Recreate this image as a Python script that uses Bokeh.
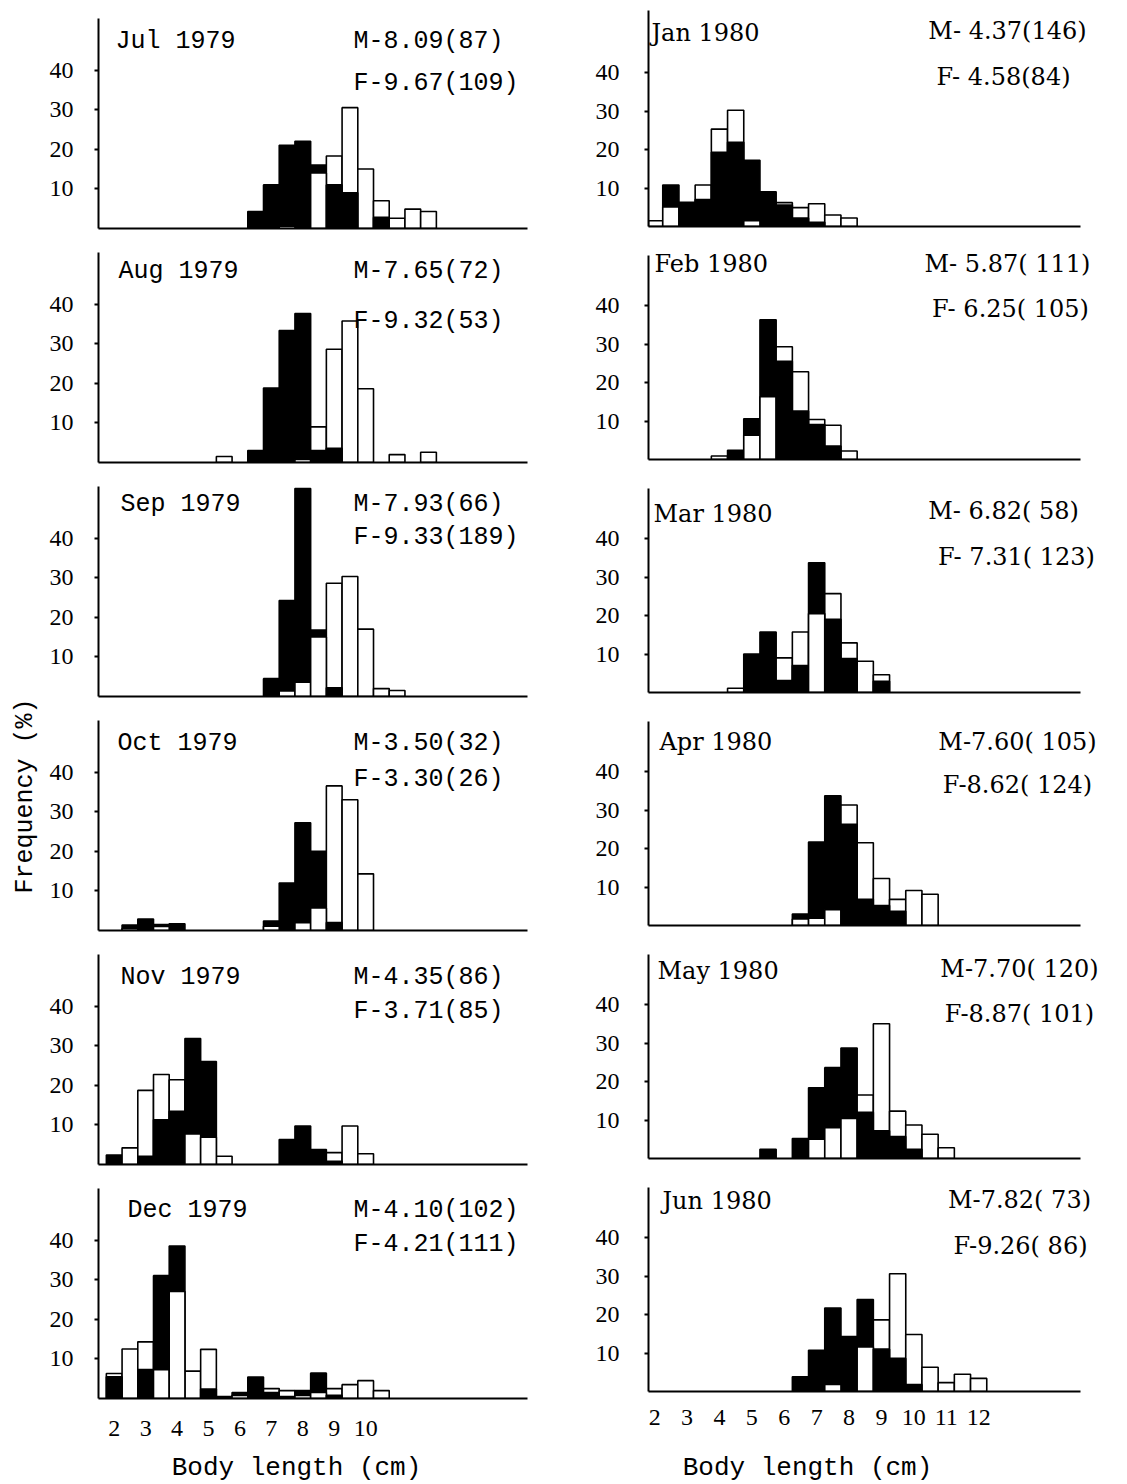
from math import pi
from bokeh.plotting import figure
from bokeh.models import ColumnDataSource, Label, FixedTicker, Range1d
from bokeh.layouts import row, column
from bokeh.embed import file_html
from bokeh.resources import INLINE
from bokeh.core.validation import silence
from bokeh.core.validation.warnings import MISSING_RENDERERS

silence(MISSING_RENDERERS, True)

# ---------------- data (percent frequency by 0.5 cm body-length class) ----------------
jul79_len = [6.5, 7.0, 7.5, 8.0, 8.5, 9.0, 9.5, 10.0, 10.5, 11.0, 11.5, 12.0]
jul79_m = [4.3, 11.0, 21.0, 22.0, 16.0, 11.0, 9.0, 0.0, 2.8, 0.0, 0.0, 0.0]
jul79_f = [0.0, 0.0, 0.6, 0.0, 14.0, 18.3, 30.5, 15.0, 7.0, 2.6, 4.9, 4.3]

aug79_len = [5.5, 6.5, 7.0, 7.5, 8.0, 8.5, 9.0, 9.5, 10.0, 11.0, 12.0]
aug79_m = [0.0, 3.0, 18.8, 33.3, 37.6, 3.0, 3.6, 0.0, 0.0, 0.0, 0.0]
aug79_f = [1.5, 0.0, 0.0, 0.0, 0.8, 9.0, 28.6, 35.7, 18.6, 2.0, 2.6]

sep79_len = [7.0, 7.5, 8.0, 8.5, 9.0, 9.5, 10.0, 10.5, 11.0]
sep79_m = [4.5, 24.2, 52.5, 16.8, 2.2, 0.0, 0.0, 0.0, 0.0]
sep79_f = [0.0, 1.4, 3.6, 15.0, 28.6, 30.3, 17.0, 2.0, 1.5]

oct79_len = [2.5, 3.0, 3.5, 4.0, 7.0, 7.5, 8.0, 8.5, 9.0, 9.5, 10.0]
oct79_m = [1.4, 2.9, 1.5, 1.7, 2.4, 12.0, 27.2, 20.0, 2.0, 0.0, 0.0]
oct79_f = [0.5, 0.0, 1.0, 0.0, 1.1, 0.0, 2.0, 5.7, 36.5, 33.0, 14.3]

nov79_len = [2.0, 2.5, 3.0, 3.5, 4.0, 4.5, 5.0, 5.5, 7.5, 8.0, 8.5, 9.0, 9.5, 10.0]
nov79_m = [2.4, 0.0, 2.1, 11.3, 13.4, 31.8, 26.0, 0.0, 6.3, 9.7, 3.8, 0.8, 0.0, 0.0]
nov79_f = [0.0, 4.2, 18.7, 22.7, 21.4, 7.7, 6.9, 2.1, 0.0, 0.0, 0.0, 3.0, 9.7, 2.7]

dec79_len = [2.0, 2.5, 3.0, 3.5, 4.0, 4.5, 5.0, 5.5, 6.0, 6.5, 7.0, 7.5, 8.0, 8.5, 9.0, 9.5, 10.0, 10.5]
dec79_m = [5.5, 0.0, 7.3, 31.0, 38.5, 0.0, 2.4, 0.5, 1.5, 5.4, 1.5, 0.5, 2.0, 6.4, 0.8, 0.0, 0.0, 0.0]
dec79_f = [6.3, 12.5, 14.3, 7.3, 27.0, 6.9, 12.4, 0.0, 0.8, 0.0, 2.5, 2.0, 0.8, 1.5, 2.5, 3.5, 4.5, 2.0]

jan80_len = [2.0, 2.5, 3.0, 3.5, 4.0, 4.5, 5.0, 5.5, 6.0, 6.5, 7.0, 7.5, 8.0]
jan80_m = [0.0, 10.8, 6.0, 7.0, 19.3, 21.9, 17.2, 9.0, 5.6, 2.2, 1.1, 0.0, 0.0]
jan80_f = [1.5, 5.1, 6.3, 10.8, 25.3, 30.2, 1.5, 0.0, 6.2, 4.9, 5.9, 3.0, 2.2]

feb80_len = [4.0, 4.5, 5.0, 5.5, 6.0, 6.5, 7.0, 7.5, 8.0]
feb80_m = [0.0, 2.4, 10.6, 36.3, 25.5, 12.6, 9.1, 3.5, 0.0]
feb80_f = [0.9, 0.0, 6.3, 16.3, 29.3, 22.8, 10.4, 8.9, 2.2]

mar80_len = [4.5, 5.0, 5.5, 6.0, 6.5, 7.0, 7.5, 8.0, 8.5, 9.0]
mar80_m = [0.0, 10.0, 15.7, 3.1, 7.0, 33.7, 19.0, 8.8, 0.0, 2.9]
mar80_f = [1.1, 0.0, 0.0, 9.0, 15.7, 20.5, 25.7, 12.9, 8.1, 4.6]

apr80_len = [6.5, 7.0, 7.5, 8.0, 8.5, 9.0, 9.5, 10.0, 10.5]
apr80_m = [3.0, 21.7, 33.7, 26.3, 6.8, 5.2, 3.7, 0.0, 0.0]
apr80_f = [1.7, 1.9, 4.1, 31.3, 21.5, 12.2, 6.8, 9.1, 8.1]

may80_len = [5.5, 6.5, 7.0, 7.5, 8.0, 8.5, 9.0, 9.5, 10.0, 10.5, 11.0]
may80_m = [2.4, 5.2, 18.4, 23.6, 28.7, 12.0, 7.2, 5.7, 2.4, 0.0, 0.0]
may80_f = [0.0, 0.0, 5.0, 8.0, 10.4, 16.5, 35.0, 12.3, 8.7, 6.3, 2.8]

jun80_len = [6.5, 7.0, 7.5, 8.0, 8.5, 9.0, 9.5, 10.0, 10.5, 11.0, 11.5, 12.0]
jun80_m = [3.8, 10.7, 21.7, 14.3, 23.9, 11.0, 8.6, 1.8, 0.0, 0.0, 0.0, 0.0]
jun80_f = [0.0, 0.0, 1.8, 0.0, 11.6, 18.6, 30.6, 14.8, 6.3, 2.3, 4.5, 3.4]

left_titles = ["Jul 1979", "Aug 1979", "Sep 1979", "Oct 1979", "Nov 1979", "Dec 1979"]
left_mtext = ["M-8.09(87)", "M-7.65(72)", "M-7.93(66)", "M-3.50(32)", "M-4.35(86)", "M-4.10(102)"]
left_ftext = ["F-9.67(109)", "F-9.32(53)", "F-9.33(189)", "F-3.30(26)", "F-3.71(85)", "F-4.21(111)"]
right_titles = ["Jan 1980", "Feb 1980", "Mar 1980", "Apr 1980", "May 1980", "Jun 1980"]
right_mtext = ["M- 4.37(146)", "M- 5.87( 111)", "M- 6.82( 58)", "M-7.60( 105)", "M-7.70( 120)", "M-7.82( 73)"]
right_ftext = ["F- 4.58(84)", "F- 6.25( 105)", "F- 7.31( 123)", "F-8.62( 124)", "F-8.87( 101)", "F-9.26( 86)"]

y_ticks = [10, 20, 30, 40]
left_x_ticks = [2, 3, 4, 5, 6, 7, 8, 9, 10]
right_x_ticks = [2, 3, 4, 5, 6, 7, 8, 9, 10, 11, 12]
x_title = "Body length (cm)"
y_title = "Frequency  (%)"

left_data = [(jul79_len, jul79_m, jul79_f), (aug79_len, aug79_m, aug79_f),
             (sep79_len, sep79_m, sep79_f), (oct79_len, oct79_m, oct79_f),
             (nov79_len, nov79_m, nov79_f), (dec79_len, dec79_m, dec79_f)]
right_data = [(jan80_len, jan80_m, jan80_f), (feb80_len, feb80_m, feb80_f),
              (mar80_len, mar80_m, mar80_f), (apr80_len, apr80_m, apr80_f),
              (may80_len, may80_m, may80_f), (jun80_len, jun80_m, jun80_f)]

# ---------------- layout / style ----------------
MONO = "Liberation Mono"
SERIF = "Liberation Serif"
RSERIF = "DejaVu Serif"
TOTAL_H = 1482

# axis_px: visible length of the y axis line above the baseline
GL = dict(width=508, mbl=58, mbr=21, x0=1.5, ppc=31.43, axis_w=429, upp=53 / 210,
          heights=[242, 234, 234, 234, 234, 270], mbt=2, mbb=[14, 14, 14, 14, 14, 50],
          axis_px=[210] * 6,
          fl=98, ystand=21, xstand=16, ticks=left_x_ticks,
          title_font=MONO, title_size="25px", ann_font=MONO, ann_size="25px",
          title_x=[115, 118, 120, 117, 120, 127], title_y=[187, 191, 192, 187, 187, 188],
          m_x=[353] * 6, m_y=[187, 191, 192, 187, 187, 188],
          f_x=[353] * 6, f_y=[145, 141, 159, 151, 153, 154],
          ann_align="left", xlab_h=34, xlab_px=296, xlab_cy=15)
GR = dict(width=569, mbl=100, mbr=2, x0=1.81, ppc=32.4, axis_w=432, upp=53 / 204,
          heights=[241, 233, 233, 233, 233, 263], mbt=2, mbb=[15, 15, 15, 15, 15, 45],
          axis_px=[216, 204, 204, 204, 204, 204],
          fl=648, ystand=25, xstand=12, ticks=right_x_ticks,
          title_font=RSERIF, title_size="24px", ann_font=RSERIF, ann_size="24px",
          title_x=[651, 654, 653, 659, 657, 662], title_y=[194, 196, 179, 184, 188, 191],
          m_x=[1007, 1007, 1003, 1017, 1019, 1019], m_y=[196, 196, 182, 184, 190, 192],
          f_x=[1003, 1010, 1016, 1017, 1019, 1020], f_y=[150, 151, 136, 141, 145, 146],
          ann_align="center", xlab_h=46, xlab_px=807, xlab_cy=15)


def make_panel(g, i, title, mtxt, ftxt, data, last):
    lens, m, f = data
    h = g["heights"][i]
    mbt = g["mbt"]
    mbb = g["mbb"][i]
    fh = h - mbt - mbb
    fw = g["width"] - g["mbl"] - g["mbr"]
    x0 = g["x0"]
    x1 = x0 + fw / g["ppc"]
    ymax = fh * g["upp"]
    p = figure(width=g["width"], height=h,
               x_range=Range1d(x0, x1), y_range=Range1d(0, ymax),
               output_backend="svg", toolbar_location=None,
               min_border_left=g["mbl"], min_border_right=g["mbr"],
               min_border_top=mbt, min_border_bottom=mbb)
    p.outline_line_color = None
    p.xgrid.visible = False
    p.ygrid.visible = False
    p.background_fill_color = "white"
    p.border_fill_color = "white"

    # overlapping histograms: taller bar behind, shorter in front
    back_top, back_col, front_top, front_col, fx = [], [], [], [], []
    for L, a, b in zip(lens, m, f):
        back_top.append(max(a, b))
        back_col.append("black" if a >= b else "white")
        if min(a, b) > 0:
            fx.append(L)
            front_top.append(min(a, b))
            front_col.append("white" if a >= b else "black")
    p.vbar(source=ColumnDataSource(dict(x=list(lens), top=back_top, c=back_col)),
           x="x", top="top", bottom=0, width=0.5, fill_color="c",
           line_color="black", line_width=1.6)
    p.vbar(source=ColumnDataSource(dict(x=fx, top=front_top, c=front_col)),
           x="x", top="top", bottom=0, width=0.5, fill_color="c",
           line_color="black", line_width=1.6)

    # axes
    ya = p.yaxis[0]
    ya.ticker = FixedTicker(ticks=y_ticks, minor_ticks=[])
    ya.bounds = (0, g["axis_px"][i] * g["upp"])
    ya.axis_line_width = 2
    ya.major_tick_line_width = 2
    ya.major_tick_out = 4
    ya.major_tick_in = 0
    ya.minor_tick_line_color = None
    ya.major_label_text_font = SERIF
    ya.major_label_text_font_size = "24px"
    ya.major_label_text_color = "black"
    ya.major_label_standoff = g["ystand"]

    xa = p.xaxis[0]
    xa.ticker = FixedTicker(ticks=(g["ticks"] if last else []), minor_ticks=[])
    xa.bounds = (x0, x0 + g["axis_w"] / g["ppc"])
    xa.axis_line_width = 2
    xa.major_tick_line_color = None
    xa.minor_tick_line_color = None
    xa.major_label_text_font = SERIF
    xa.major_label_text_font_size = "24px"
    xa.major_label_text_color = "black"
    xa.major_label_standoff = g["xstand"]

    sy = g["upp"]

    def X(page_x):
        return x0 + (page_x - g["fl"]) / g["ppc"]

    p.add_layout(Label(x=X(g["title_x"][i]), y=g["title_y"][i] * sy, text=title,
                       text_font=g["title_font"], text_font_size=g["title_size"],
                       text_align="left", text_baseline="middle", text_color="black"))
    p.add_layout(Label(x=X(g["m_x"][i]), y=g["m_y"][i] * sy, text=mtxt,
                       text_font=g["ann_font"], text_font_size=g["ann_size"],
                       text_align=g["ann_align"], text_baseline="middle", text_color="black"))
    p.add_layout(Label(x=X(g["f_x"][i]), y=g["f_y"][i] * sy, text=ftxt,
                       text_font=g["ann_font"], text_font_size=g["ann_size"],
                       text_align=g["ann_align"], text_baseline="middle", text_color="black"))
    return p


def text_fig(w, h, text, cx, cy, size, angle=0.0, mbl=0, mbr=0):
    # frame spans w - mbl - mbr px; x range is in px measured from the frame's left edge
    fw = w - mbl - mbr
    p = figure(width=w, height=h, x_range=Range1d(0, fw), y_range=Range1d(0, h),
               x_axis_location=None, y_axis_location=None, output_backend="svg",
               toolbar_location=None, min_border_left=mbl, min_border_right=mbr,
               min_border_top=0, min_border_bottom=0)
    p.outline_line_color = None
    p.xgrid.visible = False
    p.ygrid.visible = False
    p.border_fill_color = "white"
    p.add_layout(Label(x=cx, y=cy, text=text, angle=angle, text_font=MONO,
                       text_font_size=size, text_align="center", text_baseline="middle",
                       text_color="black"))
    return p


def build_column(g, titles, mtexts, ftexts, datas):
    figs = [make_panel(g, i, titles[i], mtexts[i], ftexts[i], datas[i], i == 5) for i in range(6)]
    figs.append(text_fig(g["width"], g["xlab_h"], x_title, g["xlab_px"] - g["fl"],
                         g["xlab_cy"], "26px", mbl=g["mbl"], mbr=g["mbr"]))
    return column(*figs)


ylab = text_fig(40, TOTAL_H, y_title, 25, TOTAL_H - 788, "25px", angle=pi / 2)
left_col = build_column(GL, left_titles, left_mtext, left_ftext, left_data)
right_col = build_column(GR, right_titles, right_mtext, right_ftext, right_data)

layout = row(ylab, left_col, right_col)
open("out.html", "w").write(file_html(layout, INLINE))
